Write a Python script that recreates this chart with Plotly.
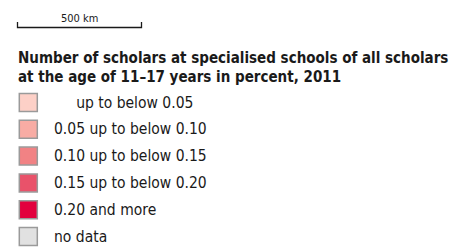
import plotly.graph_objects as go

# ---- data ----
title_lines = ["Number of scholars at specialised schools of all scholars",
               "at the age of 11\u201317 years in percent, 2011"]
class_labels = ["\u00a0\u00a0\u00a0\u00a0\u00a0up to below 0.05",
                "0.05 up to below 0.10",
                "0.10 up to below 0.15",
                "0.15 up to below 0.20",
                "0.20 and more",
                "no data"]
class_colors = ["#fdd0c7", "#f8aca4", "#f18284", "#e9526a", "#e2003d", "#e1e1e1"]
scale_label = "500 km"

FONT = "DejaVu Sans Condensed, DejaVu Sans, sans-serif"

W, H = 455, 248
row0, row_step = 102.5, 26.8
sw_x = 28.3
txt_x = 52

ys = [row0 + i * row_step for i in range(len(class_labels))]

fig = go.Figure()
fig.add_trace(go.Scatter(
    x=[sw_x] * len(class_labels), y=ys, mode="markers",
    marker=dict(symbol="square", size=18, color=class_colors,
                line=dict(color="#9a9a9a", width=1.5)),
    hoverinfo="skip", showlegend=False))

for y, lab in zip(ys, class_labels):
    fig.add_annotation(x=txt_x, y=y, text=lab, xanchor="left", yanchor="middle",
                       showarrow=False, xref="x", yref="y",
                       font=dict(family=FONT, size=15.5, color="#1a1a1a"))

for i, t in enumerate(title_lines):
    fig.add_annotation(x=16, y=57.5 + 19.5 * i, text="<b>" + t + "</b>", xanchor="left",
                       yanchor="middle", showarrow=False, xref="x", yref="y",
                       font=dict(family=FONT, size=15, color="#1a1a1a"))

# scale bar
fig.add_shape(type="path", path="M 17.5 22 L 17.5 27.5 L 141.5 27.5 L 141.5 22",
              line=dict(color="#1a1a1a", width=1.3), xref="x", yref="y")
fig.add_annotation(x=79, y=18, text=scale_label, xanchor="center", yanchor="middle",
                   showarrow=False, xref="x", yref="y",
                   font=dict(family=FONT, size=11, color="#1a1a1a"))

fig.update_layout(width=W, height=H, margin=dict(l=0, r=0, t=0, b=0),
                  paper_bgcolor="white", plot_bgcolor="white",
                  xaxis=dict(range=[0, W], visible=False, fixedrange=True),
                  yaxis=dict(range=[H, 0], visible=False, fixedrange=True))
fig.write_html("out.html", config={"displayModeBar": False},
               post_script="document.body.style.margin='0';")
